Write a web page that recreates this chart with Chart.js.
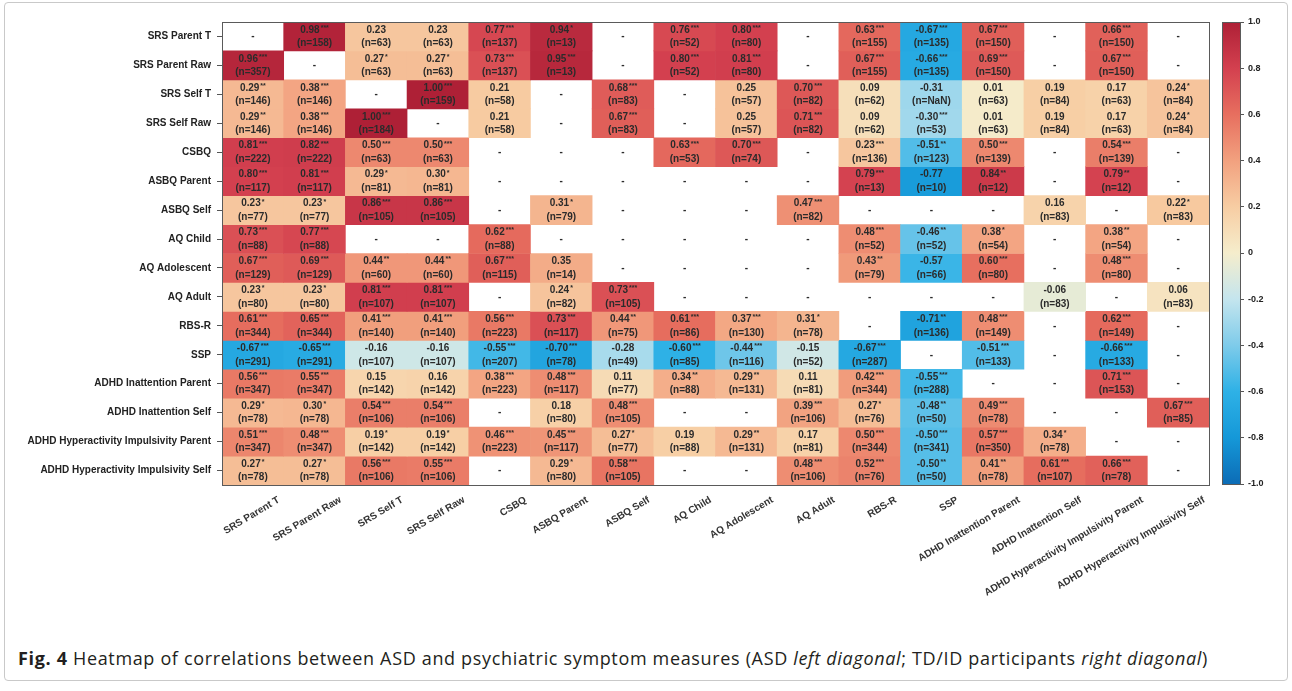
<!DOCTYPE html>
<html>
<head>
<meta charset="utf-8">
<script src="https://cdn.jsdelivr.net/npm/chart.js@4.4.1/dist/chart.umd.min.js"></script>
<style>
  body { margin: 0; background: #fff; width: 1292px; height: 691px; overflow: hidden; font-family: "Liberation Sans", Arial, sans-serif; }
  #frame { position: absolute; left: 4px; top: 2px; width: 1282px; height: 677px; border: 1px solid #c9c9c9; border-radius: 4px; }
  #heat { position: absolute; left: 0; top: 0; }
  #cbar { position: absolute; left: 1212px; top: 0; }
  #caption { position: absolute; left: 18px; top: 646px; font-family: "Open Sans", "Liberation Sans", sans-serif; font-size: 18px; color: #231f20; white-space: nowrap; }
</style>
</head>
<body>
<div id="frame"></div>
<canvas id="heat" width="1292" height="640"></canvas>
<canvas id="cbar" width="80" height="500"></canvas>
<div id="caption"><b>Fig. 4</b> Heatmap of correlations between ASD and psychiatric symptom measures (ASD <i>left diagonal</i>; TD/ID participants <i>right diagonal</i>)</div>

<script>
// measures (rows top->bottom, columns left->right)
var measures = ["SRS Parent T", "SRS Parent Raw", "SRS Self T", "SRS Self Raw", "CSBQ", "ASBQ Parent",
  "ASBQ Self", "AQ Child", "AQ Adolescent", "AQ Adult", "RBS-R", "SSP", "ADHD Inattention Parent",
  "ADHD Inattention Self", "ADHD Hyperactivity Impulsivity Parent", "ADHD Hyperactivity Impulsivity Self"];

// correlation r, null = no value ("-")
var corr = [
  [null, .98, .23, .23, .77, .94, null, .76, .80, null, .63, -.67, .67, null, .66, null],
  [.96, null, .27, .27, .73, .95, null, .80, .81, null, .67, -.66, .69, null, .67, null],
  [.29, .38, null, 1.00, .21, null, .68, null, .25, .70, .09, -.31, .01, .19, .17, .24],
  [.29, .38, 1.00, null, .21, null, .67, null, .25, .71, .09, -.30, .01, .19, .17, .24],
  [.81, .82, .50, .50, null, null, null, .63, .70, null, .23, -.51, .50, null, .54, null],
  [.80, .81, .29, .30, null, null, null, null, null, null, .79, -.77, .84, null, .79, null],
  [.23, .23, .86, .86, null, .31, null, null, null, .47, null, null, null, .16, null, .22],
  [.73, .77, null, null, .62, null, null, null, null, null, .48, -.46, .38, null, .38, null],
  [.67, .69, .44, .44, .67, .35, null, null, null, null, .43, -.57, .60, null, .48, null],
  [.23, .23, .81, .81, null, .24, .73, null, null, null, null, null, null, -.06, null, .06],
  [.61, .65, .41, .41, .56, .73, .44, .61, .37, .31, null, -.71, .48, null, .62, null],
  [-.67, -.65, -.16, -.16, -.55, -.70, -.28, -.60, -.44, -.15, -.67, null, -.51, null, -.66, null],
  [.56, .55, .15, .16, .38, .48, .11, .34, .29, .11, .42, -.55, null, null, .71, null],
  [.29, .30, .54, .54, null, .18, .48, null, null, .39, .27, -.48, .49, null, null, .67],
  [.51, .48, .19, .19, .46, .45, .27, .19, .29, .17, .50, -.50, .57, .34, null, null],
  [.27, .27, .56, .55, null, .29, .58, null, null, .48, .52, -.50, .41, .61, .66, null]
];

// significance stars
var stars = [
  ["", "***", "", "", "***", "*", "", "***", "***", "", "***", "***", "***", "", "***", ""],
  ["***", "", "*", "*", "***", "***", "", "***", "***", "", "***", "***", "***", "", "***", ""],
  ["**", "***", "", "***", "", "", "***", "", "", "***", "", "", "", "", "", "*"],
  ["**", "***", "***", "", "", "", "***", "", "", "***", "", "***", "", "", "", "*"],
  ["***", "***", "***", "***", "", "", "", "***", "***", "", "***", "**", "***", "", "***", ""],
  ["***", "***", "*", "*", "", "", "", "", "", "", "***", "", "**", "", "**", ""],
  ["*", "*", "***", "***", "", "*", "", "", "", "***", "", "", "", "", "", "*"],
  ["***", "***", "", "", "***", "", "", "", "", "", "***", "**", "*", "", "**", ""],
  ["***", "***", "**", "**", "***", "", "", "", "", "", "**", "", "***", "", "***", ""],
  ["*", "*", "***", "***", "", "*", "***", "", "", "", "", "", "", "", "", ""],
  ["***", "***", "***", "***", "***", "***", "**", "***", "***", "*", "", "**", "***", "", "***", ""],
  ["***", "***", "", "", "***", "***", "", "***", "***", "", "***", "", "***", "", "***", ""],
  ["***", "***", "", "", "***", "***", "", "**", "**", "", "***", "***", "", "", "***", ""],
  ["*", "*", "***", "***", "", "", "***", "", "", "***", "*", "**", "***", "", "", "***"],
  ["***", "***", "*", "*", "***", "***", "*", "", "**", "", "***", "***", "***", "*", "", ""],
  ["*", "*", "***", "***", "", "*", "***", "", "", "***", "***", "**", "**", "***", "***", ""]
];

// sample sizes
var nSize = [
  [null, 158, 63, 63, 137, 13, null, 52, 80, null, 155, 135, 150, null, 150, null],
  [357, null, 63, 63, 137, 13, null, 52, 80, null, 155, 135, 150, null, 150, null],
  [146, 146, null, 159, 58, null, 83, null, 57, 82, 62, NaN, 63, 84, 63, 84],
  [146, 146, 184, null, 58, null, 83, null, 57, 82, 62, 53, 63, 84, 63, 84],
  [222, 222, 63, 63, null, null, null, 53, 74, null, 136, 123, 139, null, 139, null],
  [117, 117, 81, 81, null, null, null, null, null, null, 13, 10, 12, null, 12, null],
  [77, 77, 105, 105, null, 79, null, null, null, 82, null, null, null, 83, null, 83],
  [88, 88, null, null, 88, null, null, null, null, null, 52, 52, 54, null, 54, null],
  [129, 129, 60, 60, 115, 14, null, null, null, null, 79, 66, 80, null, 80, null],
  [80, 80, 107, 107, null, 82, 105, null, null, null, null, null, null, 83, null, 83],
  [344, 344, 140, 140, 223, 117, 75, 86, 130, 78, null, 136, 149, null, 149, null],
  [291, 291, 107, 107, 207, 78, 49, 85, 116, 52, 287, null, 133, null, 133, null],
  [347, 347, 142, 142, 223, 117, 77, 88, 131, 81, 344, 288, null, null, 153, null],
  [78, 78, 106, 106, null, 80, 105, null, null, 106, 76, 50, 78, null, null, 85],
  [347, 347, 142, 142, 223, 117, 77, 88, 131, 81, 344, 341, 350, 78, null, null],
  [78, 78, 106, 106, null, 80, 105, null, null, 106, 76, 50, 78, 107, 78, null]
];

// colour scale, -1 .. 1
var cmap = [
  [-1.0, "#0c6cb6"], [-0.8, "#1598d8"], [-0.6, "#2eb1e6"], [-0.4, "#7ecbea"], [-0.2, "#c4e5ee"],
  [0.0, "#f5edcc"], [0.2, "#f7cda3"], [0.4, "#f2a17f"], [0.6, "#e76f5f"], [0.8, "#d3404f"], [1.0, "#ae2036"]
];

function hex2rgb(h) { return [parseInt(h.substr(1, 2), 16), parseInt(h.substr(3, 2), 16), parseInt(h.substr(5, 2), 16)]; }
function colorFor(v) {
  for (var k = 0; k < cmap.length - 1; k++) {
    if (v <= cmap[k + 1][0]) {
      var t = (v - cmap[k][0]) / (cmap[k + 1][0] - cmap[k][0]);
      var a = hex2rgb(cmap[k][1]), b = hex2rgb(cmap[k + 1][1]);
      return "rgb(" + a.map(function (c, m) { return Math.round(c + (b[m] - c) * t); }).join(",") + ")";
    }
  }
  return cmap[cmap.length - 1][1];
}

var txtColor = "#2b2b2b";
var FONT = "'Liberation Sans', Arial";

// labels inside the cells
var cellText = {
  id: "cellText",
  afterDatasetsDraw: function (chart) {
    var ctx = chart.ctx, xs = chart.scales.x, ys = chart.scales.y;
    ctx.save();
    ctx.fillStyle = txtColor;
    ctx.textBaseline = "middle";
    for (var i = 0; i < corr.length; i++) {
      var yc = ys.getPixelForValue(i + 0.5);
      for (var j = 0; j < corr[i].length; j++) {
        var x = xs.getPixelForValue(j);
        var v = corr[i][j];
        if (v === null) {
          ctx.font = "bold 10px " + FONT;
          ctx.textAlign = "center";
          ctx.fillText("-", x, yc);
          continue;
        }
        var s = v.toFixed(2), st = stars[i][j];
        ctx.font = "bold 10px " + FONT;
        var w1 = ctx.measureText(s).width;
        ctx.font = "bold 7px " + FONT;
        var w2 = st ? ctx.measureText(st).width + 1 : 0;
        var x0 = x - (w1 + w2) / 2;
        ctx.textAlign = "left";
        ctx.font = "bold 10px " + FONT;
        ctx.fillText(s, x0, yc - 6.5);
        if (st) {
          ctx.font = "bold 7px " + FONT;
          ctx.fillText(st, x0 + w1 + 1, yc - 8.5);
        }
        ctx.font = "bold 10px " + FONT;
        ctx.textAlign = "center";
        ctx.fillText("(n=" + nSize[i][j] + ")", x, yc + 7);
      }
    }
    ctx.restore();
  }
};

var boxFrame = {
  id: "boxFrame",
  afterDraw: function (chart) {
    var a = chart.chartArea, ctx = chart.ctx;
    ctx.save();
    ctx.strokeStyle = "#5a5a5a";
    ctx.lineWidth = 1;
    ctx.strokeRect(Math.round(a.left) + 0.5, Math.round(a.top) + 0.5, Math.round(a.right - a.left), Math.round(a.bottom - a.top));
    ctx.restore();
  }
};

new Chart(document.getElementById("heat"), {
  type: "bar",
  data: {
    labels: measures,
    datasets: measures.map(function (m, i) {
      return {
        label: m,
        data: corr[i].map(function (v) { return v === null ? null : [i, i + 1]; }),
        backgroundColor: corr[i].map(function (v) { return v === null ? "rgba(0,0,0,0)" : colorFor(v); }),
        borderWidth: 0,
        barPercentage: 1,
        categoryPercentage: 1,
        grouped: false
      };
    })
  },
  options: {
    responsive: false,
    animation: false,
    layout: { padding: { left: 0, top: 22, right: 83, bottom: 0 } },
    plugins: { legend: { display: false }, tooltip: { enabled: false } },
    scales: {
      x: {
        type: "category",
        grid: { display: false },
        border: { display: false },
        ticks: { autoSkip: false, minRotation: 31, maxRotation: 31, padding: 1, labelOffset: 26, color: "#333", font: { family: FONT, size: 10, weight: "bold" } },
        afterFit: function (s) { s.height = 155; }
      },
      y: {
        type: "linear",
        reverse: true,
        min: 0,
        max: 16,
        grid: { drawOnChartArea: false, tickLength: 5, color: "#555" },
        border: { display: false },
        afterBuildTicks: function (s) { s.ticks = measures.map(function (m, i) { return { value: i + 0.5 }; }); },
        ticks: {
          autoSkip: false,
          padding: 6,
          color: "#222",
          font: { family: FONT, size: 10, weight: "bold" },
          callback: function (v, idx) { return measures[idx]; }
        },
        afterFit: function (s) { s.width = 222; }
      }
    }
  },
  plugins: [cellText, boxFrame]
});

// colour bar
new Chart(document.getElementById("cbar"), {
  type: "bar",
  data: {
    labels: [""],
    datasets: [{
      data: [[-1, 1]],
      barPercentage: 1,
      categoryPercentage: 1,
      borderWidth: 0,
      backgroundColor: function (c) {
        var a = c.chart.chartArea;
        if (!a) return "#ccc";
        var g = c.chart.ctx.createLinearGradient(0, a.bottom, 0, a.top);
        cmap.forEach(function (s) { g.addColorStop((s[0] + 1) / 2, s[1]); });
        return g;
      }
    }]
  },
  options: {
    responsive: false,
    animation: false,
    layout: { padding: { left: 10, top: 22, right: 0, bottom: 16 } },
    plugins: { legend: { display: false }, tooltip: { enabled: false } },
    scales: {
      x: { display: false },
      y: {
        position: "right",
        min: -1,
        max: 1,
        grid: { drawOnChartArea: false, tickLength: 4, color: "#555" },
        border: { display: false },
        ticks: { stepSize: 0.2, padding: 4, color: "#222", font: { family: FONT, size: 9, weight: "bold" } },
        afterFit: function (s) { s.width = 52; }
      }
    }
  },
  plugins: [boxFrame]
});

// stretch the caption to the width it has in the figure
var cap = document.getElementById("caption");
var capChars = cap.textContent.length;
var capW = cap.getBoundingClientRect().width;
cap.style.letterSpacing = Math.max(0, (1190 - capW) / capChars) + "px";
</script>
</body>
</html>
